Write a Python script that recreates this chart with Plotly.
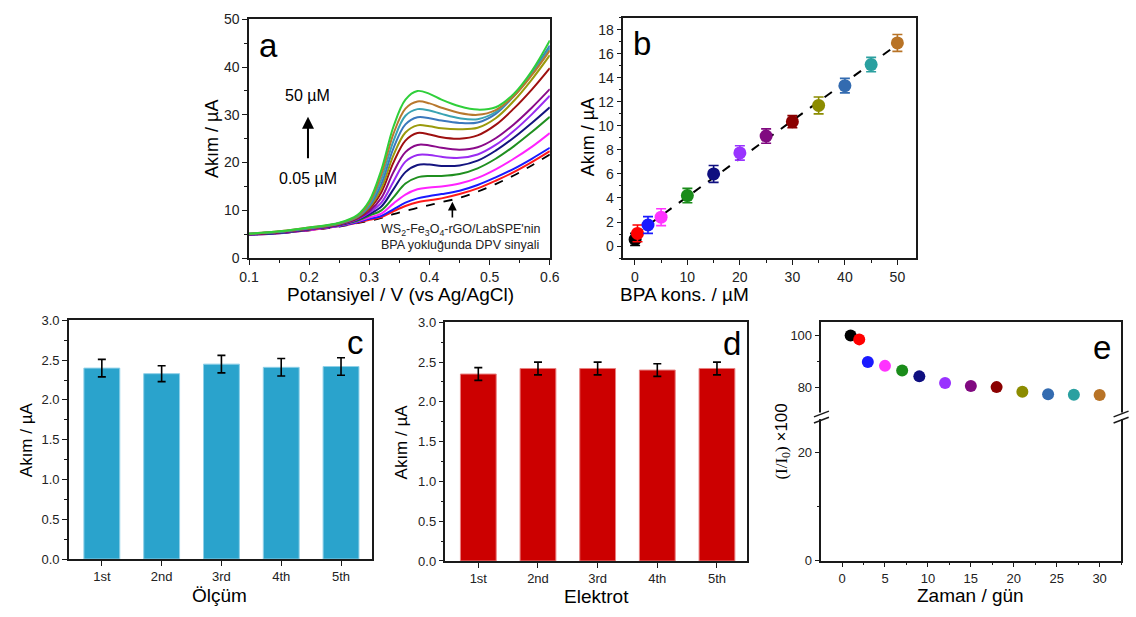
import numpy as np
import plotly.graph_objects as go

W, H = 1136, 617
FONT = "Liberation Sans, Arial, sans-serif"

# ---------------- Panel a: DPV voltammograms ----------------
potential = [0.10, 0.15, 0.20, 0.25, 0.28, 0.30, 0.32, 0.34, 0.36, 0.38,
             0.40, 0.42, 0.45, 0.48, 0.51, 0.54, 0.57, 0.60]
i_blank = [4.9, 5.2, 5.8, 6.6, 7.3, 7.8, 8.4, 9.2, 9.9, 10.5, 11.1, 11.7, 12.6, 13.9, 15.5, 17.3, 19.4, 21.7]
i_c0_05 = [4.9, 5.2, 5.8, 6.7, 7.4, 8.0, 8.6, 9.8, 10.9, 11.7, 12.1, 12.5, 13.4, 14.6, 16.2, 18.0, 20.1, 22.4]
i_c0_5 = [4.9, 5.2, 5.9, 6.7, 7.5, 8.2, 8.8, 10.2, 11.6, 12.5, 13.0, 13.4, 14.1, 15.3, 16.9, 18.7, 20.8, 23.1]
i_c2_5 = [5.0, 5.3, 5.9, 6.8, 7.7, 8.5, 9.3, 11.4, 13.3, 14.4, 14.8, 15.0, 15.6, 16.8, 18.6, 20.8, 23.3, 26.2]
i_c5 = [5.0, 5.3, 6.0, 6.9, 7.8, 8.9, 10.0, 12.7, 15.6, 16.9, 17.2, 17.2, 17.6, 18.8, 20.8, 23.4, 26.4, 29.6]
i_c10 = [5.0, 5.3, 6.0, 6.9, 8.0, 9.2, 10.8, 14.4, 18.0, 19.5, 19.6, 19.3, 19.4, 20.4, 22.5, 25.2, 28.3, 31.6]
i_c15 = [5.0, 5.4, 6.1, 7.0, 8.1, 9.5, 11.6, 16.0, 20.2, 21.6, 21.6, 21.2, 21.0, 21.7, 23.7, 26.6, 30.1, 34.0]
i_c20 = [5.0, 5.4, 6.1, 7.0, 8.2, 9.8, 12.6, 18.0, 22.2, 23.7, 23.6, 23.1, 22.7, 23.2, 25.1, 28.0, 31.5, 35.4]
i_c25 = [5.0, 5.4, 6.2, 7.1, 8.4, 10.3, 13.8, 20.0, 24.6, 26.2, 25.9, 25.3, 25.0, 25.7, 27.9, 31.3, 35.3, 39.8]
i_c30 = [5.1, 5.5, 6.2, 7.2, 8.5, 10.6, 14.6, 21.5, 26.3, 27.8, 27.6, 27.2, 27.0, 27.3, 29.3, 32.9, 37.4, 42.5]
i_c35 = [5.1, 5.5, 6.3, 7.2, 8.6, 10.9, 15.5, 23.0, 28.0, 29.5, 29.3, 28.8, 28.3, 28.4, 30.2, 33.9, 38.8, 44.5]
i_c40 = [5.1, 5.5, 6.3, 7.3, 8.7, 11.2, 16.5, 24.5, 29.8, 31.2, 30.9, 30.2, 29.3, 29.1, 30.6, 34.0, 38.6, 44.0]
i_c45 = [5.1, 5.6, 6.4, 7.3, 8.8, 11.6, 17.5, 26.0, 31.3, 32.8, 32.4, 31.5, 30.4, 30.0, 31.0, 33.9, 38.3, 43.5]
i_c50 = [5.1, 5.6, 6.4, 7.4, 9.0, 12.0, 18.5, 27.5, 33.2, 35.0, 34.4, 33.2, 31.8, 31.1, 31.6, 34.4, 39.2, 45.6]
dpv_curves = [i_c0_05, i_c0_5, i_c2_5, i_c5, i_c10, i_c15, i_c20,
              i_c25, i_c30, i_c35, i_c40, i_c45, i_c50]
dpv_colors = ["#ff1a1a", "#1a1aff", "#ff22ff", "#1f8f1f", "#14147f", "#9a2cf2", "#8a0a8a",
              "#9e1010", "#9a9a0c", "#3b78bd", "#3aa3b3", "#b8782e", "#2fcf3a"]

# ---------------- Panel b: calibration ----------------
conc = [0.05, 0.5, 2.5, 5, 10, 15, 20, 25, 30, 35, 40, 45, 50]
peak_current = [0.55, 1.05, 1.75, 2.4, 4.2, 6.0, 7.75, 9.15, 10.35, 11.7, 13.35, 15.1, 16.9]
peak_err = [0.5, 0.7, 0.7, 0.7, 0.6, 0.7, 0.6, 0.6, 0.5, 0.7, 0.6, 0.6, 0.7]
point_colors = ["#000000", "#ff0000", "#1a1aff", "#ff33ff", "#1a8c1a", "#0f0f80", "#9933ff",
                "#800a80", "#8b0000", "#8c8c00", "#336bb0", "#2aa0a0", "#b87326"]

# ---------------- Panels c, d: repeatability / reproducibility ----------------
runs = ["1st", "2nd", "3rd", "4th", "5th"]
repeat_current = [2.40, 2.33, 2.45, 2.41, 2.42]
repeat_err = [0.11, 0.10, 0.11, 0.11, 0.11]
electrode_current = [2.35, 2.42, 2.42, 2.40, 2.42]
electrode_err = [0.08, 0.08, 0.08, 0.08, 0.08]

# ---------------- Panel e: stability ----------------
days = [1, 2, 3, 5, 7, 9, 12, 15, 18, 21, 24, 27, 30]
retention = [100.0, 98.5, 89.9, 88.4, 86.6, 84.4, 81.9, 80.7, 80.3, 78.5, 77.6, 77.4, 77.3]
retention_err = [0.0, 1.2, 1.3, 1.3, 1.0, 1.3, 1.0, 1.2, 1.3, 1.2, 1.2, 1.3, 1.3]

fig = go.Figure()

# panel a
fig.add_trace(go.Scatter(x=potential, y=i_blank, mode="lines", line_shape="spline",
                         line=dict(color="black", width=1.8, dash="dash"),
                         xaxis="x", yaxis="y", showlegend=False))
for ys, col in zip(dpv_curves, dpv_colors):
    fig.add_trace(go.Scatter(x=potential, y=ys, mode="lines", line_shape="spline",
                             line=dict(color=col, width=2), xaxis="x", yaxis="y",
                             showlegend=False))

# panel b: linear fit + points
slope, intercept = np.polyfit(conc, peak_current, 1)
fit_x = np.array([min(conc), max(conc)])
fig.add_trace(go.Scatter(x=fit_x, y=slope * fit_x + intercept, mode="lines",
                         line=dict(color="black", width=2, dash="dash"),
                         xaxis="x2", yaxis="y2", showlegend=False))
for xv, yv, ev, col in zip(conc, peak_current, peak_err, point_colors):
    fig.add_trace(go.Scatter(x=[xv], y=[yv], mode="markers",
                             marker=dict(color=col, size=13),
                             error_y=dict(type="data", array=[ev], color=col, thickness=1.6, width=5),
                             xaxis="x2", yaxis="y2", showlegend=False))

# panels c and d
fig.add_trace(go.Bar(x=runs, y=repeat_current, width=0.6,
                     marker=dict(color="#2aa3cc", line=dict(color="#8fd0e8", width=1)),
                     error_y=dict(type="data", array=repeat_err, color="black", thickness=1.6, width=4),
                     xaxis="x3", yaxis="y3", showlegend=False))
fig.add_trace(go.Bar(x=runs, y=electrode_current, width=0.6,
                     marker=dict(color="#cc0000", line=dict(color="#e88080", width=1)),
                     error_y=dict(type="data", array=electrode_err, color="black", thickness=1.6, width=4),
                     xaxis="x4", yaxis="y4", showlegend=False))

# panel e (upper segment of broken axis holds the data)
fig.add_trace(go.Scatter(x=[], y=[], xaxis="x5", yaxis="y5", showlegend=False))
for xv, yv, ev, col in zip(days, retention, retention_err, point_colors):
    fig.add_trace(go.Scatter(x=[xv], y=[yv], mode="markers",
                             marker=dict(color=col, size=12),
                             error_y=dict(type="data", array=[ev], color=col, thickness=1.6, width=4,
                                          visible=ev > 0),
                             xaxis="x6", yaxis="y6", showlegend=False))

LINE = "#1a1a1a"


def dom_x(p0, p1):
    """page pixels -> paper fraction (horizontal)"""
    return [max(0.0, p0 / W), min(1.0, p1 / W)]


def dom_y(top, bottom):
    """page pixels (top, bottom) -> paper fraction (vertical)"""
    return [max(0.0, 1 - bottom / H), min(1.0, 1 - top / H)]


def ax(**kw):
    base = dict(showline=True, linecolor=LINE, linewidth=1.5, mirror=True,
                ticks="outside", ticklen=5, tickwidth=1.3, tickcolor=LINE,
                showgrid=False, zeroline=False,
                tickfont=dict(family=FONT, size=14, color="#222"))
    base.update(kw)
    return base


def minor(dt, ticks="outside"):
    return dict(dtick=dt, ticks=ticks, ticklen=3, tickwidth=1.1, tickcolor=LINE, showgrid=False)


small_tick = dict(family=FONT, size=13, color="#222")
E_X = dom_x(826, 1131)

fig.update_layout(
    width=W, height=H, margin=dict(l=0, r=0, t=0, b=0),
    paper_bgcolor="white", plot_bgcolor="white",
    font=dict(family=FONT, color="black"),
    xaxis=ax(domain=dom_x(243.3, 549.5), anchor="y", range=[0.1, 0.6], tick0=0.1, dtick=0.1,
             minor=minor(0.05)),
    yaxis=ax(domain=dom_y(11.7, 256.7), anchor="x", range=[0, 50], dtick=10, minor=minor(5)),
    xaxis2=ax(domain=dom_x(624.3, 922), anchor="y2", range=[-2.2, 53.5], tick0=0, dtick=10,
              minor=minor(5)),
    yaxis2=ax(domain=dom_y(10, 256.7), anchor="x2", range=[-1, 19], tick0=0, dtick=2,
              minor=minor(1)),
    xaxis3=ax(domain=dom_x(60, 368), anchor="y3", range=[-0.55, 4.51], tickfont=small_tick),
    yaxis3=ax(domain=dom_y(320.7, 565.7), anchor="x3", range=[0, 3], dtick=0.5, tickformat=".1f",
              minor=minor(0.25), tickfont=small_tick),
    xaxis4=ax(domain=dom_x(443.3, 750), anchor="y4", range=[-0.55, 4.5], tickfont=small_tick),
    yaxis4=ax(domain=dom_y(322.7, 567.7), anchor="x4", range=[0, 3], dtick=0.5, tickformat=".1f",
              minor=minor(0.25), tickfont=small_tick),
    xaxis5=ax(domain=E_X, anchor="y5", range=[-2.4, 32.5], tick0=0, dtick=5,
              minor=minor(2.5), mirror=False, tickfont=small_tick),
    yaxis5=ax(domain=dom_y(418.3, 567.3), anchor="x5", range=[0, 26.8], dtick=20,
              minor=minor(10), tickfont=small_tick),
    xaxis6=ax(domain=E_X, anchor="y6", range=[-2.4, 32.5], side="top",
              ticks="", showticklabels=False, mirror=False, matches="x5"),
    yaxis6=ax(domain=dom_y(322.7, 418.3), anchor="x6", range=[69.5, 105], tick0=0, dtick=20,
              minor=minor(10), tickfont=small_tick),
)

annotations = []


def label(text, px, py, size, angle=0):
    annotations.append(dict(text=text, x=px / W, y=1 - py / H,
                            xref="paper", yref="paper", xanchor="center", yanchor="middle",
                            showarrow=False, textangle=angle,
                            font=dict(family=FONT, size=size, color="black")))


# axis titles
label("Potansiyel / V (vs Ag/AgCl)", 397, 294, 19)
label("Akım / µA", 205, 134, 18, -90)
label("BPA kons. / µM", 687, 294, 19)
label("Akım / µA", 588, 133, 18, -90)
label("Ölçüm", 213, 603, 19)
label("Akım / µA", 17, 443, 17, -90)
label("Elektrot", 597, 604, 19)
label("Akım / µA", 398, 445, 17, -90)
label("Zaman / gün", 978, 603, 19)
label("<span style='font-family:Liberation Serif'>(I/I<sub>0</sub>)</span> ×100", 787, 445, 17, -90)

# panel letters, in data coordinates
for letter, xr, yr, xv, yv in [("a", "x", "y", 0.133, 44.6), ("b", "x2", "y2", 1.4, 16.85),
                               ("c", "x3", "y3", 4.25, 2.72), ("d", "x4", "y4", 4.25, 2.73),
                               ("e", "x6", "y6", 30.3, 95.4)]:
    annotations.append(dict(text=letter, x=xv, y=yv, xref=xr, yref=yr, showarrow=False,
                            font=dict(family=FONT, size=33, color="black")))

# panel a notes
annotations += [
    dict(text="50 µM", x=0.198, y=34.0, xref="x", yref="y", showarrow=False,
         font=dict(family=FONT, size=16, color="black")),
    dict(text="0.05 µM", x=0.198, y=16.7, xref="x", yref="y", showarrow=False,
         font=dict(family=FONT, size=16, color="black")),
    dict(text="", x=0.198, y=29.6, ax=0.198, ay=20.6, xref="x", yref="y", axref="x", ayref="y",
         showarrow=True, arrowhead=2, arrowsize=1.2, arrowwidth=2, arrowcolor="black"),
    dict(text="WS<sub>2</sub>-Fe<sub>3</sub>O<sub>4</sub>-rGO/LabSPE'nin", x=0.451, y=5.8,
         xref="x", yref="y", showarrow=False, font=dict(family=FONT, size=12.5, color="#222")),
    dict(text="BPA yokluğunda DPV sinyali", x=0.451, y=2.7,
         xref="x", yref="y", showarrow=False, font=dict(family=FONT, size=12.5, color="#222")),
    dict(text="", x=0.438, y=11.8, ax=0.438, ay=8.2, xref="x", yref="y", axref="x", ayref="y",
         showarrow=True, arrowhead=2, arrowsize=1.1, arrowwidth=1.6, arrowcolor="black"),
]
fig.update_layout(annotations=annotations)

# axis-break marks on panel e
shapes = []
for side in (0.0, 1.0):
    shapes.append(dict(type="rect", xref="x5 domain", yref="y5 domain",
                       x0=side - 0.02, x1=side + 0.02, y0=0.975, y1=1.02,
                       fillcolor="white", line=dict(width=0), layer="above"))
    for dy in (-0.012, 0.03):
        shapes.append(dict(type="line", xref="x5 domain", yref="y5 domain",
                           x0=side - 0.025, y0=0.96 + dy, x1=side + 0.025, y1=1.0 + dy,
                           line=dict(color=LINE, width=1.5), layer="above"))
fig.update_layout(shapes=shapes)

fig.write_html("out.html")
